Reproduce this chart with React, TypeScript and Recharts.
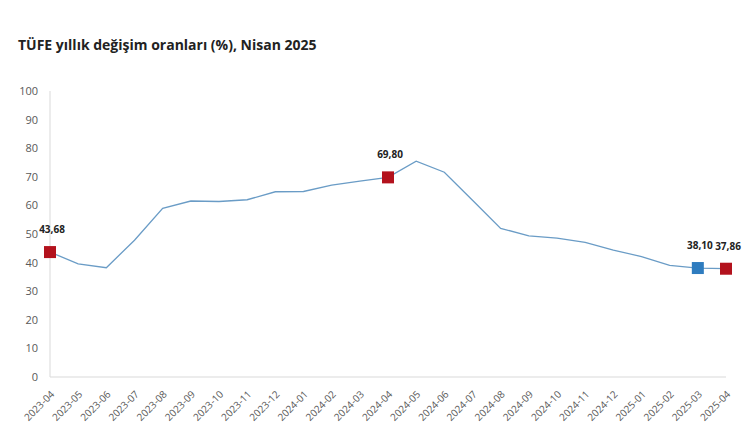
import { LineChart, Line, XAxis, YAxis } from "recharts";

const months = [
  "2023-04", "2023-05", "2023-06", "2023-07", "2023-08", "2023-09", "2023-10",
  "2023-11", "2023-12", "2024-01", "2024-02", "2024-03", "2024-04", "2024-05",
  "2024-06", "2024-07", "2024-08", "2024-09", "2024-10", "2024-11", "2024-12",
  "2025-01", "2025-02", "2025-03", "2025-04",
];

const tufe = [
  43.68, 39.59, 38.21, 47.83, 58.94, 61.53, 61.36, 61.98, 64.77, 64.86, 67.07,
  68.5, 69.8, 75.45, 71.6, 61.78, 51.97, 49.38, 48.58, 47.09, 44.38, 42.12,
  39.05, 38.1, 37.86,
];

const redMonths = ["2023-04", "2024-04", "2025-04"];
const blueMonths = ["2025-03"];

const yTicks = [0, 10, 20, 30, 40, 50, 60, 70, 80, 90, 100];

const data = months.map((m, i) => ({ month: m, value: tufe[i] }));

const fmt = (v: number) => v.toFixed(2).replace(".", ",");

const MarkerDot = (props: any) => {
  const { cx, cy, payload, index } = props;
  let fill = "";
  if (redMonths.includes(payload.month)) fill = "#b3121d";
  if (blueMonths.includes(payload.month)) fill = "#2e7cbf";
  if (!fill) return <g key={index} />;
  return (
    <g key={index}>
      <rect x={cx - 6} y={cy - 6} width={12} height={12} fill={fill} />
      <text
        x={cx + 2}
        y={cy - 19}
        textAnchor="middle"
        fontSize={10}
        fontWeight={700}
        fill="#222"
      >
        {fmt(payload.value)}
      </text>
    </g>
  );
};

const XTick = (props: any) => {
  const { x, y, payload } = props;
  return (
    <text
      x={x + 5}
      y={y + 10}
      transform={`rotate(-45, ${x + 5}, ${y + 10})`}
      textAnchor="end"
      fontSize={10}
      fill="#595959"
    >
      {payload.value}
    </text>
  );
};

export default function App() {
  return (
    <div
      style={{
        position: "absolute",
        left: 0,
        top: 0,
        width: 753,
        height: 441,
        background: "#fff",
        fontFamily: "'Open Sans', sans-serif",
      }}
    >
      <div
        style={{
          position: "absolute",
          left: 18,
          top: 35,
          fontSize: 14,
          fontWeight: 700,
          color: "#222",
        }}
      >
        TÜFE yıllık değişim oranları (%), Nisan 2025
      </div>
      <LineChart
        width={753}
        height={441}
        data={data}
        margin={{ top: 91, right: 27, bottom: 4, left: 0 }}
      >
        <XAxis
          dataKey="month"
          interval={0}
          height={60}
          tick={<XTick />}
          tickLine={false}
          axisLine={{ stroke: "#d9d9d9" }}
        />
        <YAxis
          width={50}
          domain={[0, 100]}
          ticks={yTicks}
          interval={0}
          tickLine={false}
          tickMargin={6}
          axisLine={{ stroke: "#d9d9d9" }}
          tick={{ fontSize: 11, fill: "#595959" }}
        />
        <Line
          dataKey="value"
          stroke="#6a9cc6"
          strokeWidth={1.3}
          dot={<MarkerDot />}
          activeDot={false}
          isAnimationActive={false}
        />
      </LineChart>
    </div>
  );
}
